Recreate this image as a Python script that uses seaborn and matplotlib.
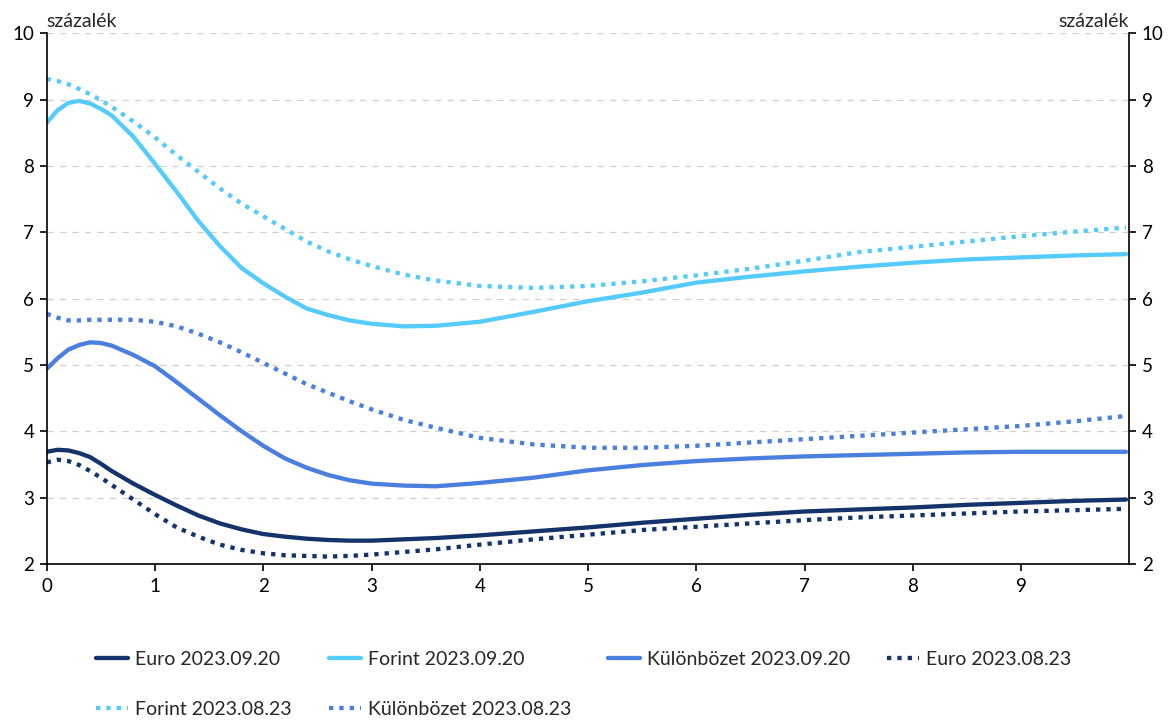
import pandas as pd
import matplotlib.pyplot as plt
import seaborn as sns

# maturity (years)
years = [0, 0.1, 0.2, 0.3, 0.4, 0.5, 0.6, 0.8, 1.0, 1.2, 1.4, 1.6, 1.8, 2.0, 2.2, 2.4, 2.6, 2.8,
         3.0, 3.3, 3.6, 4, 4.5, 5, 5.5, 6, 6.5, 7, 7.5, 8, 8.5, 9, 9.5, 9.97]

euro_0920 = [3.69, 3.72, 3.71, 3.67, 3.61, 3.51, 3.40, 3.21, 3.04, 2.88, 2.73, 2.61, 2.52, 2.45,
             2.41, 2.38, 2.36, 2.35, 2.35, 2.37, 2.39, 2.43, 2.49, 2.55, 2.62, 2.68, 2.74, 2.79,
             2.82, 2.85, 2.89, 2.92, 2.95, 2.97]
forint_0920 = [8.65, 8.84, 8.95, 8.98, 8.94, 8.86, 8.76, 8.44, 8.03, 7.61, 7.17, 6.79, 6.46, 6.23,
               6.03, 5.85, 5.75, 5.67, 5.62, 5.58, 5.59, 5.65, 5.80, 5.96, 6.09, 6.24, 6.33, 6.41,
               6.48, 6.54, 6.59, 6.62, 6.65, 6.67]
kul_0920 = [4.94, 5.10, 5.23, 5.30, 5.34, 5.33, 5.29, 5.15, 4.98, 4.74, 4.49, 4.24, 4.00, 3.78,
            3.59, 3.45, 3.34, 3.26, 3.21, 3.18, 3.17, 3.22, 3.30, 3.41, 3.49, 3.55, 3.59, 3.62,
            3.64, 3.66, 3.68, 3.69, 3.69, 3.69]
euro_0823 = [3.53, 3.57, 3.55, 3.49, 3.40, 3.30, 3.19, 2.97, 2.75, 2.55, 2.41, 2.29, 2.21, 2.16,
             2.13, 2.12, 2.11, 2.12, 2.14, 2.18, 2.22, 2.29, 2.37, 2.44, 2.51, 2.56, 2.61, 2.66,
             2.70, 2.73, 2.76, 2.79, 2.81, 2.83]
forint_0823 = [9.31, 9.28, 9.23, 9.16, 9.08, 8.99, 8.89, 8.67, 8.43, 8.16, 7.91, 7.66, 7.43, 7.24,
               7.05, 6.86, 6.71, 6.59, 6.49, 6.36, 6.27, 6.19, 6.16, 6.19, 6.26, 6.35, 6.45, 6.57,
               6.70, 6.78, 6.86, 6.94, 7.01, 7.07]
kul_0823 = [5.77, 5.71, 5.67, 5.67, 5.68, 5.68, 5.68, 5.68, 5.65, 5.58, 5.47, 5.34, 5.19, 5.03,
            4.87, 4.71, 4.58, 4.45, 4.33, 4.17, 4.05, 3.90, 3.80, 3.75, 3.75, 3.78, 3.83, 3.88,
            3.93, 3.98, 4.03, 4.08, 4.15, 4.23]

x_ticks = list(range(10))
y_ticks = list(range(2, 11))

sns.set_theme(style='white')
plt.rcParams['font.family'] = ['Lato', 'DejaVu Sans']

navy = '#15336B'
light = '#55CBFB'
mid = '#4A7EDF'
dot = (0, (1, 1.4))

series = [
    ('Euro 2023.09.20', euro_0920, navy, '-'),
    ('Forint 2023.09.20', forint_0920, light, '-'),
    ('Különbözet 2023.09.20', kul_0920, mid, '-'),
    ('Euro 2023.08.23', euro_0823, navy, dot),
    ('Forint 2023.08.23', forint_0823, light, dot),
    ('Különbözet 2023.08.23', kul_0823, mid, dot),
]

fig = plt.figure(figsize=(11.69, 7.22), dpi=100)
ax = fig.add_axes([0.040, 0.219, 0.926, 0.735])

handles = {}
for label, vals, col, ls in series:
    sns.lineplot(x=years, y=vals, ax=ax, color=col, linewidth=3.1, label=label)
    line = ax.get_lines()[-1]
    line.set_linestyle(ls)
    line.set_dash_capstyle('butt')
    line.set_solid_joinstyle('round')
    handles[label] = line

ax.set_xlim(0, 10)
ax.set_ylim(2, 10)
ax.set_xticks(x_ticks)
ax.set_yticks(y_ticks)
ax.yaxis.grid(True, color='#d0d0d0', linestyle=(0, (5, 5)), linewidth=0.9)
ax.xaxis.grid(False)
ax.set_axisbelow(True)

for s in ['left', 'right', 'bottom']:
    ax.spines[s].set_visible(True)
    ax.spines[s].set_color('black')
    ax.spines[s].set_linewidth(1.2)
ax.spines['top'].set_visible(False)

ax.tick_params(axis='both', which='major', labelsize=13.5, colors='black', length=5, width=1.2,
               direction='out')
ax.tick_params(axis='y', left=True, right=True, labelleft=True, labelright=True, pad=4)
ax.tick_params(axis='x', bottom=True, pad=5)

fig.text(0.040, 0.9626, 'százalék', ha='left', va='baseline', fontsize=14)
fig.text(0.966, 0.9626, 'százalék', ha='right', va='baseline', fontsize=14)

ax.get_legend().remove()
order = ['Euro 2023.09.20', 'Forint 2023.08.23', 'Forint 2023.09.20', 'Különbözet 2023.08.23',
         'Különbözet 2023.09.20', 'Euro 2023.08.23']
fig.legend([handles[k] for k in order], order, loc='upper left', bbox_to_anchor=(0.0821, 0.0983),
           ncol=4, frameon=False, fontsize=14, handlelength=1.65, handletextpad=0.36,
           columnspacing=1.9, labelspacing=1.7, borderpad=0, borderaxespad=0)

plt.savefig('out.png', dpi=100)
